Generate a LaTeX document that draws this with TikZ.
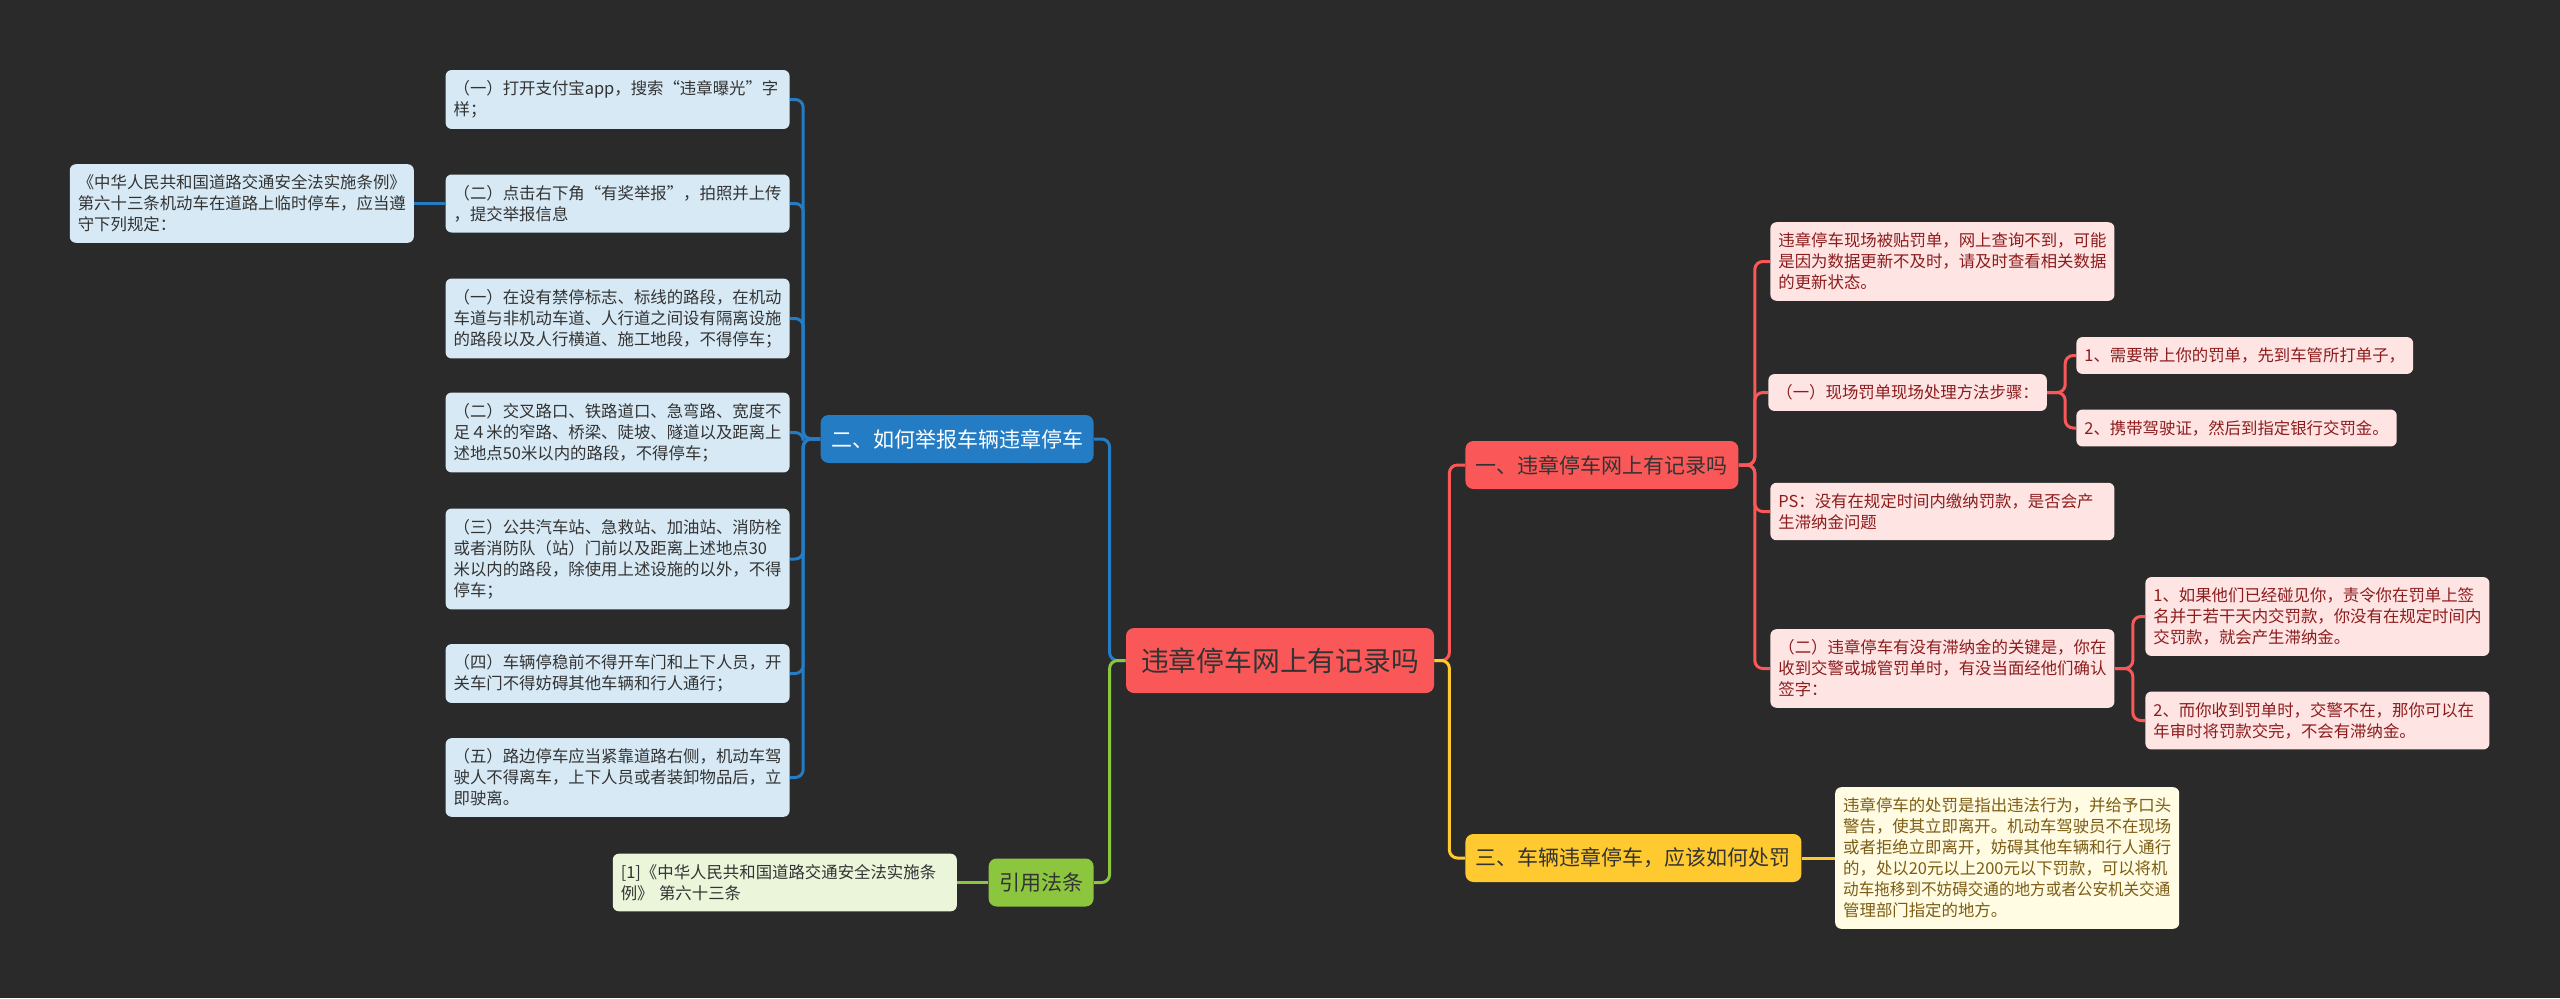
\documentclass[tikz,border=0pt]{standalone}
\usepackage{fontspec}
\newfontfamily\cjk{Noto Sans CJK SC}
\usepackage{graphicx}
\usepackage{tikz}
\usetikzlibrary{positioning}
\usepackage{xcolor}
\definecolor{bgdark}{RGB}{42,42,42}
\definecolor{mapred}{RGB}{250,88,88}
\definecolor{mapblue}{RGB}{36,124,197}
\definecolor{mapgreen}{RGB}{140,198,63}
\definecolor{mapyellow}{RGB}{255,202,48}
\definecolor{leafblue}{RGB}{214,233,245}
\definecolor{leafpink}{RGB}{255,228,228}
\definecolor{leafgreen}{RGB}{234,245,218}
\definecolor{leafyellow}{RGB}{255,252,227}
\definecolor{inkdark}{RGB}{51,51,51}
\definecolor{inkred}{RGB}{140,28,28}
\definecolor{inkbrown}{RGB}{125,92,20}
\tikzset{
  rootnd/.style ={fill=mapred, rounded corners=4pt, inner xsep=7.5pt,
                  minimum height=32.5pt, text=inkdark,
                  font=\cjk\fontsize{13.9pt}{16pt}\selectfont},
  topic/.style  ={rounded corners=4pt, inner xsep=5.25pt,
                  minimum height=24pt,
                  font=\cjk\fontsize{10.5pt}{12pt}\selectfont},
  leaf/.style   ={rounded corners=3pt, inner xsep=4pt, inner ysep=5.3pt,
                  align=left, font=\cjk\fontsize{8.2pt}{10.5pt}\selectfont},
  wide/.style   ={text width=164pt},
  bleaf/.style  ={leaf, fill=leafblue, text=inkdark},
  pleaf/.style  ={leaf, fill=leafpink, text=inkred},
  gleaf/.style  ={leaf, fill=leafgreen, text=inkdark},
  yleaf/.style  ={leaf, fill=leafyellow, text=inkbrown},
  link/.style   ={line width=1.5pt, rounded corners=4pt},
}
\begin{document}
\begin{tikzpicture}[x=0.5pt, y=-0.5pt]
\fill[bgdark] (0,0) rectangle (2560,998);
\node[rootnd] (root) at (1280,660.5) {违章停车网上有记录吗};
\node[topic, fill=mapred, text=inkdark, anchor=west] (t1) at (1465,465) {一、违章停车网上有记录吗};
\node[topic, fill=mapblue, text=white, anchor=east] (t2) at (1094,439) {二、如何举报车辆违章停车};
\node[topic, fill=mapyellow, text=inkdark, anchor=west] (t3) at (1465,858) {三、车辆违章停车，应该如何处罚};
\node[topic, fill=mapgreen, text=inkdark, anchor=east] (cite) at (1094,882.5) {引用法条};
\node[bleaf, wide, anchor=east] (b1) at (790,99.5) {（一）打开支付宝app，搜索“违章曝光”字\\样；};
\node[bleaf, wide, anchor=east] (b2) at (790,203.5) {（二）点击右下角“有奖举报”，拍照并上传\\，提交举报信息};
\node[bleaf, wide, anchor=east] (b3) at (790,318.5) {（一）在设有禁停标志、标线的路段，在机动\\车道与非机动车道、人行道之间设有隔离设施\\的路段以及人行横道、施工地段，不得停车；};
\node[bleaf, wide, anchor=east] (b4) at (790,432.5) {（二）交叉路口、铁路道口、急弯路、宽度不\\足４米的窄路、桥梁、陡坡、隧道以及距离上\\述地点50米以内的路段，不得停车；};
\node[bleaf, wide, anchor=east] (b5) at (790,559) {（三）公共汽车站、急救站、加油站、消防栓\\或者消防队（站）门前以及距离上述地点30\\米以内的路段，除使用上述设施的以外，不得\\停车；};
\node[bleaf, wide, anchor=east] (b6) at (790,673.5) {（四）车辆停稳前不得开车门和上下人员，开\\关车门不得妨碍其他车辆和行人通行；};
\node[bleaf, wide, anchor=east] (b7) at (790,777.5) {（五）路边停车应当紧靠道路右侧，机动车驾\\驶人不得离车，上下人员或者装卸物品后，立\\即驶离。};
\node[bleaf, wide, left=15.5pt of b2] (law) {《中华人民共和国道路交通安全法实施条例》\\第六十三条机动车在道路上临时停车，应当遵\\守下列规定：};
\node[gleaf, wide, left=15.5pt of cite] (src) {[1]《中华人民共和国道路交通安全法实施条\\例》 第六十三条};
\node[pleaf, wide, anchor=west] (p1) at (1770,261.5) {违章停车现场被贴罚单，网上查询不到，可能\\是因为数据更新不及时，请及时查看相关数据\\的更新状态。};
\node[pleaf, anchor=west] (p2) at (1768,392.5) {（一）现场罚单现场处理方法步骤：};
\node[pleaf, anchor=west] (p21) at (2076,355.5) {1、需要带上你的罚单，先到车管所打单子，};
\node[pleaf, anchor=west] (p22) at (2076,428) {2、携带驾驶证，然后到指定银行交罚金。};
\node[pleaf, wide, anchor=west] (p3) at (1770,511.5) {PS：没有在规定时间内缴纳罚款，是否会产\\生滞纳金问题};
\node[pleaf, wide, anchor=west] (p4) at (1770,668.5) {（二）违章停车有没有滞纳金的关键是，你在\\收到交警或城管罚单时，有没当面经他们确认\\签字：};
\node[pleaf, wide, anchor=west] (p41) at (2145,616.5) {1、如果他们已经碰见你，责令你在罚单上签\\名并于若干天内交罚款，你没有在规定时间内\\交罚款，就会产生滞纳金。};
\node[pleaf, wide, anchor=west] (p42) at (2145,720.5) {2、而你收到罚单时，交警不在，那你可以在\\年审时将罚款交完，不会有滞纳金。};
\node[yleaf, wide, right=16.5pt of t3] (fine) {违章停车的处罚是指出违法行为，并给予口头\\警告，使其立即离开。机动车驾驶员不在现场\\或者拒绝立即离开，妨碍其他车辆和行人通行\\的，处以20元以上200元以下罚款，可以将机\\\scalebox{0.95}[1]{动车拖移到不妨碍交通的地方或者公安机关交通}\\管理部门指定的地方。};
\draw[link, mapred] (root.east) -- ++(15,0) |- (t1.west);
\draw[link, mapyellow] (root.east) -- ++(15,0) |- (t3.west);
\draw[link, mapblue] (root.west) -- ++(-16,0) |- (t2.east);
\draw[link, mapgreen] (root.west) -- ++(-16,0) |- (cite.east);
\foreach \n in {1,...,7}
  \draw[link, mapblue] (t2.west) -- ++(-17,0) |- (b\n.east);
\draw[link, mapblue] (b2.west) -- (law.east);
\draw[link, mapgreen] (cite.west) -- (src.east);
\foreach \n in {p1,p2,p3,p4}
  \draw[link, mapred] (t1.east) -- ++(16,0) |- (\n.west);
\foreach \n in {p21,p22}
  \draw[link, mapred] (p2.east) -- ++(18,0) |- (\n.west);
\foreach \n in {p41,p42}
  \draw[link, mapred] (p4.east) -- ++(18,0) |- (\n.west);
\draw[link, mapyellow] (t3.east) -- (fine.west);
\end{tikzpicture}
\end{document}
